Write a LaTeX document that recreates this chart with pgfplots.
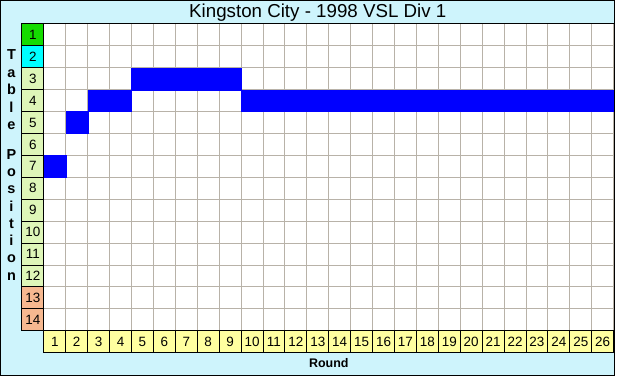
\documentclass[border=0pt]{standalone}
\usepackage{pgfplots}
\usepackage{pgfplotstable}
\pgfplotsset{compat=1.18}
\usepackage{fontspec}
\setmainfont{Liberation Sans}
\definecolor{bgcyan}{RGB}{206,244,252}
\definecolor{gridgray}{RGB}{184,178,168}
\definecolor{pgreen}{RGB}{20,220,0}
\definecolor{pcyan}{RGB}{0,255,255}
\definecolor{plime}{RGB}{222,246,184}
\definecolor{psalmon}{RGB}{246,184,144}
\definecolor{ryellow}{RGB}{255,255,160}
\pgfplotstableread{
round pos
1 7
2 5
3 4
4 4
5 3
6 3
7 3
8 3
9 3
10 4
11 4
12 4
13 4
14 4
15 4
16 4
17 4
18 4
19 4
20 4
21 4
22 4
23 4
24 4
25 4
26 4
}\datatable
\begin{document}
\begin{tikzpicture}[x=1pt,y=1pt]
% frame background
\fill[bgcyan] (0,0) rectangle (617,377);
% white plotting area
\fill[white] (44,45) rectangle (616,353);
\begin{axis}[
  at={(22pt,23pt)}, anchor=south west,
  scale only axis, width=594pt, height=330pt,
  xmin=-1, xmax=26, ymin=0, ymax=15, y dir=reverse,
  axis line style={draw=none}, major tick length=0pt,
  xtick={0,...,26}, ytick={0,...,14},
  xticklabels={}, yticklabels={},
  grid=major, grid style={color=gridgray, line width=1pt},
  clip=false,
]
\addplot[only marks, mark=square*, mark size=11pt,
  mark options={fill=blue, draw=blue, line width=0.3pt}]
  table[x expr=\thisrow{round}-0.5, y expr=\thisrow{pos}-0.5] {\datatable};
% top border of the grid
\draw[black, line width=1pt] (axis cs:0,0) -- (axis cs:26,0);
% position label cells
\draw[fill=pgreen, draw=black, line width=1pt] (axis cs:-1,0) rectangle (axis cs:0,1);
\draw[fill=pcyan, draw=black, line width=1pt] (axis cs:-1,1) rectangle (axis cs:0,2);
\pgfplotsinvokeforeach{3,...,12}{
  \draw[fill=plime, draw=black, line width=1pt] (axis cs:-1,#1-1) rectangle (axis cs:0,#1);
}
\pgfplotsinvokeforeach{13,14}{
  \draw[fill=psalmon, draw=black, line width=1pt] (axis cs:-1,#1-1) rectangle (axis cs:0,#1);
}
\pgfplotsinvokeforeach{1,...,14}{
  \node[font=\fontsize{13.5}{15}\selectfont] at (axis cs:-0.5,#1-0.5) {#1};
}
% round label cells
\pgfplotsinvokeforeach{1,...,26}{
  \draw[fill=ryellow, draw=black, line width=1pt] (axis cs:#1-1,14) rectangle (axis cs:#1,15);
  \node[font=\fontsize{13.5}{15}\selectfont] at (axis cs:#1-0.5,14.5) {#1};
}
\end{axis}
% frame
\draw[black, line width=1pt] (0.5,0.5) rectangle (616.5,376.5);
% title
\node[anchor=base, font=\fontsize{18.8}{22}\selectfont] at (319,359) {Kingston City - 1998 VSL Div 1};
% x label
\node[anchor=base, font=\fontsize{12.5}{14}\selectfont\bfseries] at (330,8) {Round};
% y label, stacked letters
\foreach \ch/\yy in {T/60, a/77.5, b/95, l/112.5, e/130, P/160, o/177.3, s/194.6, i/211.9, t/229.2, i/246.5, o/263.8, n/281.1}{
  \node[anchor=base, font=\fontsize{14.5}{16}\selectfont\bfseries] at (11.5,377-\yy) {\ch};
}
\end{tikzpicture}
\end{document}
